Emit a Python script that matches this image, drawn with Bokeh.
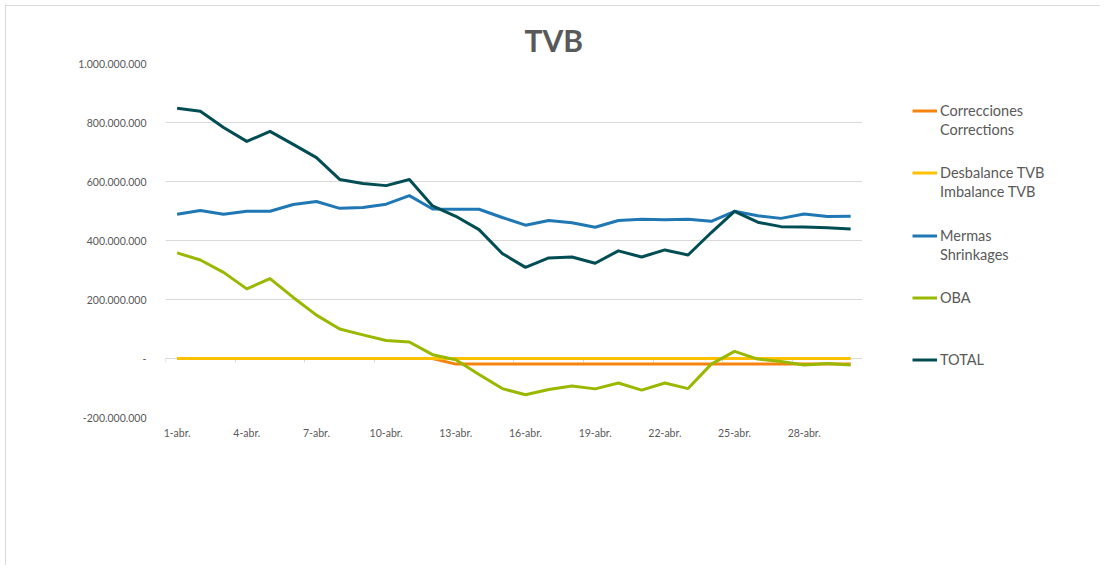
from bokeh.plotting import figure
from bokeh.models import (Range1d, FixedTicker, LinearAxis, Legend, LegendItem, BoxAnnotation)
from bokeh.embed import file_html
from bokeh.resources import INLINE

# ---------------- data (millions) ----------------
dias = list(range(1, 31))
etiquetas_x = [f"{d}-abr." for d in dias]

correcciones = [0, 0, 0, 0, 0, 0, 0, 0, 0, 0, 0, 0,
                -19, -19, -19, -19, -19, -19, -19, -19, -19, -19, -19, -19,
                -19, -19, -19, -19, -19, -19]
desbalance = [0] * 30
mermas = [489, 502, 489, 499, 499, 522, 532, 509, 512, 523,
          552, 507, 506, 506, 478, 452, 468, 460, 445, 468,
          472, 470, 472, 465, 499, 484, 475, 490, 481, 482]
oba = [358, 334, 292, 236, 271, 207, 147, 100, 80, 61,
       56, 13, -4, -54, -102, -123, -105, -93, -103, -83,
       -107, -83, -102, -19, 24, -2, -10, -22, -17, -22]
total = [848, 838, 783, 736, 770, 726, 681, 607, 593, 586,
         607, 517, 482, 437, 356, 309, 341, 344, 323, 365,
         344, 368, 351, 427, 499, 462, 447, 446, 443, 439]

series_names = [["Correcciones", "Corrections"], ["Desbalance TVB", "Imbalance TVB"],
                ["Mermas", "Shrinkages"], ["OBA"], ["TOTAL"]]
series_values = [correcciones, desbalance, mermas, oba, total]
series_colors = ["#F7830F", "#FFC000", "#1F78B4", "#99B800", "#004D54"]

y_ticks = [-200_000_000, 0, 200_000_000, 400_000_000, 600_000_000,
           800_000_000, 1_000_000_000]
x_label_ticks = dias[::3]

FONT = "Lato"
GRAY = "#595959"

N = len(dias)
X_END = N + 10.5   # extra empty room on the right where the legend lives
W, H = 1095, 560
p = figure(width=W, height=H, output_backend="svg", toolbar_location=None,
           x_range=Range1d(0.5, X_END), y_range=Range1d(-200_000_000, 1_000_000_000),
           min_border_left=159, min_border_right=7, min_border_top=57,
           min_border_bottom=149, title="TVB")
p.margin = (5, 0, 0, 5)
p.styles = {"border-top": "1px solid #D9D9D9", "border-left": "1px solid #D9D9D9"}
p.outline_line_color = None
p.background_fill_color = "white"

p.title.align = "left"
p.title.offset = 359
p.title.text_font = FONT
p.title.text_font_size = "30px"
p.title.text_font_style = "bold"
p.title.text_color = GRAY
p.title.standoff = 12

# grid
p.xgrid.grid_line_color = None
p.ygrid.ticker = FixedTicker(ticks=y_ticks)
p.ygrid.grid_line_color = "#D9D9D9"
p.ygrid.grid_line_width = 1

# white cover hiding the grid to the right of the plot area (legend zone)
cover = BoxAnnotation(left=N + 0.5, fill_color="white", fill_alpha=1,
                      line_color=None, level="underlay")
p.add_layout(cover)

# y axis
ya = p.yaxis[0]
ya.ticker = FixedTicker(ticks=y_ticks)
ya.major_label_overrides = {v: ("-" if v == 0 else f"{v:,}".replace(",", ".")) for v in y_ticks}
ya.axis_line_color = None
ya.major_tick_line_color = None
ya.minor_tick_line_color = None
ya.major_label_standoff = 13
ya.major_label_text_font = FONT
ya.major_label_text_font_size = "10.5px"
ya.major_label_text_color = GRAY

# x axis (labels at bottom)
xa = p.xaxis[0]
xa.ticker = FixedTicker(ticks=x_label_ticks)
xa.major_label_overrides = {d: etiquetas_x[d - 1] for d in x_label_ticks}
xa.axis_line_color = None
xa.major_tick_line_color = None
xa.minor_tick_line_color = None
xa.major_label_standoff = 3
xa.major_label_text_font = FONT
xa.major_label_text_font_size = "10.5px"
xa.major_label_text_color = GRAY

# horizontal category axis crossing at zero
zero_axis = LinearAxis(fixed_location=0, bounds=(0.5, N + 0.5), level="underlay",
                       ticker=FixedTicker(ticks=[0.5 + 3 * k for k in range(N // 3 + 1)]))
zero_axis.axis_line_color = "#D9D9D9"
zero_axis.axis_line_width = 1
zero_axis.major_tick_line_color = "#D9D9D9"
zero_axis.major_tick_in = 0
zero_axis.major_tick_out = 4
zero_axis.minor_tick_line_color = None
zero_axis.major_label_text_color = None
zero_axis.major_label_text_font_size = "1px"
p.add_layout(zero_axis, "below")

renderers = []
for vals, col in zip(series_values, series_colors):
    yv = [v * 1_000_000 for v in vals]
    r = p.line(dias, yv, line_color=col, line_width=3, line_join="round")
    renderers.append(r)

# invisible renderer used for the second text line of legend entries
blank = p.line([], [], line_alpha=0)

# legend entries (offsets in screen px from frame bottom-left)
legend_offsets = [(747, 278), (747, 216), (747, 153), (747, 110), (747, 48)]
for names, r, loc in zip(series_names, renderers, legend_offsets):
    items = [LegendItem(label=names[0], renderers=[r])]
    for extra in names[1:]:
        items.append(LegendItem(label=extra, renderers=[blank]))
    lg = Legend(items=items, location=loc, margin=0, padding=0, spacing=0,
                glyph_width=25, glyph_height=19, label_height=19, label_standoff=3,
                label_text_font=FONT, label_text_font_size="14.5px", label_text_color=GRAY,
                border_line_color=None, background_fill_alpha=0)
    p.add_layout(lg, "center")

open("out.html", "w").write(file_html(p, INLINE))
